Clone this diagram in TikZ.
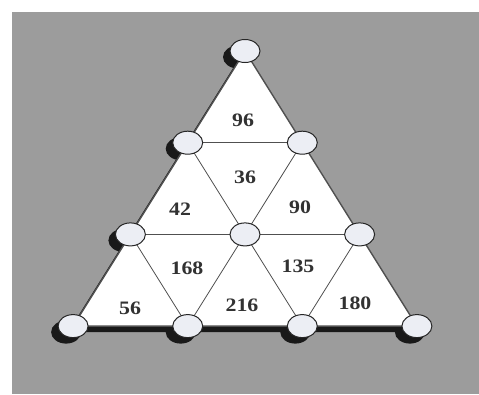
\documentclass[tikz,border=0pt]{standalone}
\usepackage{fontspec}
\setmainfont{Liberation Serif}
\usetikzlibrary{shapes.geometric}
\definecolor{bggray}{RGB}{156,156,156}
\definecolor{ovalfill}{RGB}{236,238,244}
\definecolor{linegray}{RGB}{80,80,80}
\definecolor{numgray}{RGB}{50,50,50}
\tikzset{
  oval/.style={ellipse, draw=black!85, line width=1pt, fill=ovalfill, minimum width=30pt, minimum height=23pt, inner sep=0pt},
  ovalshadow/.style={ellipse, fill=black!90, minimum width=30pt, minimum height=23pt, inner sep=0pt},
  inner/.style={draw=linegray, line width=0.8pt},
  outer/.style={draw=linegray, line width=1.4pt},
  num/.style={font=\fontsize{19}{19}\selectfont\bfseries, text=numgray, xscale=1.15, inner sep=0pt}
}
\begin{document}
\begin{tikzpicture}[x=1pt,y=-1pt]
\useasboundingbox (0,0) rectangle (479,394);
\fill[white] (0,0) rectangle (479,394);
\fill[bggray] (12,12) rectangle (479,394);
% grid points
\coordinate (a) at (245,51);
\coordinate (b1) at (187.7,142.7);
\coordinate (b2) at (302.3,142.7);
\coordinate (c1) at (130.4,234.4);
\coordinate (c2) at (245,234.4);
\coordinate (c3) at (359.6,234.4);
\coordinate (d1) at (73.1,326.1);
\coordinate (d2) at (187.7,326.1);
\coordinate (d3) at (302.3,326.1);
\coordinate (d4) at (416.9,326.1);
% shadow
\fill[black!90] ([shift={(-5,6)}]a) -- ([shift={(-5,6)}]d1) -- ([shift={(-5,6)}]d4) -- cycle;
\foreach \p in {a,b1,c1,d1,d2,d3,d4}
  \node[ovalshadow] at ([shift={(-7,6)}]\p) {};
% white triangle
\fill[white] (a) -- (d1) -- (d4) -- cycle;
% inner lines
\draw[inner] (b1) -- (b2);
\draw[inner] (c1) -- (c3);
\draw[inner] (b1) -- (d3);
\draw[inner] (c1) -- (d2);
\draw[inner] (b2) -- (d2);
\draw[inner] (c3) -- (d3);
% outer
\draw[outer] (a) -- (d1) -- (d4) -- cycle;
% ovals
\foreach \p in {a,b1,b2,c1,c2,c3,d1,d2,d3,d4}
  \node[oval] (n\p) at (\p) {};
% numbers
\node[num] (t96) at (243,120) {96};
\node[num] (t36) at (245,177) {36};
\node[num] (t42) at (180,209) {42};
\node[num] (t90) at (300,207) {90};
\node[num] (t168) at (187,268) {168};
\node[num] (t135) at (298,266) {135};
\node[num] (t56) at (130,308) {56};
\node[num] (t216) at (242,305) {216};
\node[num] (t180) at (355,303) {180};
\end{tikzpicture}
\end{document}
